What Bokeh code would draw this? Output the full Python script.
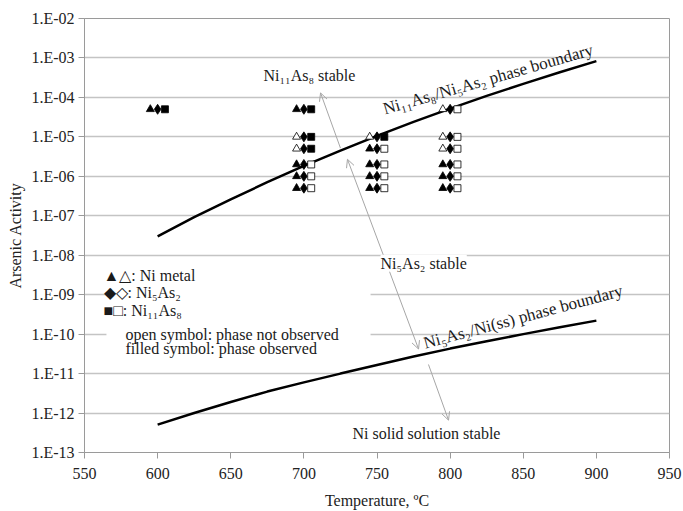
from bokeh.plotting import figure
from bokeh.models import (ColumnDataSource, Arrow, OpenHead, Label, BoxAnnotation,
                          FixedTicker, CustomJSTickFormatter)
from bokeh.transform import dodge, factor_cmap
from bokeh.embed import file_html
from bokeh.resources import INLINE

# ---------------- data ----------------
temperature = [600,
               700, 700, 700, 700, 700, 700,
               750, 750, 750, 750, 750,
               800, 800, 800, 800, 800, 800]
activity = [5e-5,
            5e-5, 1e-5, 5e-6, 2e-6, 1e-6, 5e-7,
            1e-5, 5e-6, 2e-6, 1e-6, 5e-7,
            5e-5, 1e-5, 5e-6, 2e-6, 1e-6, 5e-7]
ni_metal = ["filled",
            "filled", "open", "open", "filled", "filled", "filled",
            "open", "filled", "filled", "filled", "filled",
            "open", "open", "open", "filled", "filled", "filled"]
ni5as2 = ["filled"] * 18
ni11as8 = ["filled",
           "filled", "filled", "filled", "open", "open", "open",
           "filled", "open", "open", "open", "open",
           "open", "open", "open", "open", "open", "open"]

boundary_T = [600, 625, 650, 675, 700, 725, 750, 775, 800, 825, 850, 875, 900]
boundary_ni11as8_ni5as2 = [3.0e-8, 9.2e-8, 2.6e-7, 7.1e-7, 1.84e-6, 4.5e-6, 1.06e-5,
                           2.39e-5, 5.2e-5, 1.09e-4, 2.21e-4, 4.35e-4, 8.3e-4]
boundary_ni5as2_niss = [5.1e-13, 1.0e-12, 1.9e-12, 3.5e-12, 6.0e-12, 1.0e-11, 1.65e-11,
                        2.7e-11, 4.3e-11, 6.6e-11, 1.0e-10, 1.5e-10, 2.2e-10]

x_ticks = [550, 600, 650, 700, 750, 800, 850, 900, 950]
y_ticks = [1e-13, 1e-12, 1e-11, 1e-10, 1e-9, 1e-8, 1e-7, 1e-6, 1e-5, 1e-4, 1e-3, 1e-2]
y_tick_labels = ["1.E-13", "1.E-12", "1.E-11", "1.E-10", "1.E-09", "1.E-08",
                 "1.E-07", "1.E-06", "1.E-05", "1.E-04", "1.E-03", "1.E-02"]

FONT = "Liberation Serif"
GRAY = "#a6a6a6"

p = figure(width=683, height=511, x_range=(550, 950), y_range=(1e-13, 1e-2),
           y_axis_type="log", output_backend="svg", toolbar_location=None,
           min_border_left=84, min_border_right=14, min_border_top=18, min_border_bottom=59)
p.background_fill_color = "white"
p.border_fill_color = "white"
p.outline_line_color = "#9a9a9a"

# axes
p.xaxis.ticker = FixedTicker(ticks=x_ticks)
p.yaxis.ticker = FixedTicker(ticks=y_ticks)
p.yaxis.formatter = CustomJSTickFormatter(args=dict(yvals=y_ticks, ylabels=y_tick_labels), code="""
    const i = yvals.findIndex(t => Math.abs(Math.log10(t) - Math.log10(tick)) < 1e-6);
    return i >= 0 ? ylabels[i] : "";
""")
for ax in (p.xaxis, p.yaxis):
    ax.axis_line_color = "#9a9a9a"
    ax.major_tick_line_color = "#9a9a9a"
    ax.major_tick_out = 6
    ax.major_tick_in = 0
    ax.minor_tick_line_color = None
    ax.major_label_text_font = FONT
    ax.major_label_text_font_size = "16px"
    ax.major_label_text_color = "#222222"
    ax.axis_label_text_font = FONT
    ax.axis_label_text_font_size = "16px"
    ax.axis_label_text_font_style = "normal"
    ax.axis_label_text_color = "#222222"
p.xaxis.axis_label = "Temperature, ºC"
p.yaxis.axis_label = "Arsenic Activity"
p.xaxis.major_label_standoff = 9
p.xaxis.axis_label_standoff = 10
p.yaxis.major_label_standoff = 4
p.yaxis.axis_label_standoff = 4

p.xgrid.grid_line_color = None
p.ygrid.grid_line_color = "#c4c4c4"
p.ygrid.grid_line_width = 1.5

# white box behind the legend text
p.add_layout(BoxAnnotation(left=565, right=745.6, top=10 ** -8.25, bottom=10 ** -10.55,
                           fill_color="white", fill_alpha=1.0, line_color=None, level="underlay"))

# phase boundaries
p.line(boundary_T, boundary_ni11as8_ni5as2, line_color="black", line_width=2.5)
p.line(boundary_T, boundary_ni5as2_niss, line_color="black", line_width=2.5)

src = ColumnDataSource(dict(temperature=temperature, activity=activity,
                            ni_metal=ni_metal, ni5as2=ni5as2, ni11as8=ni11as8))
states = ["filled", "open"]
fills = ["black", "white"]
p.scatter(x=dodge("temperature", -5), y="activity", source=src, marker="triangle", size=8,
          fill_color=factor_cmap("ni_metal", fills, states), line_color="black", line_width=0.8)
p.scatter(x="temperature", y="activity", source=src, marker="diamond", size=10,
          fill_color=factor_cmap("ni5as2", fills, states), line_color="black", line_width=0.8)
p.scatter(x=dodge("temperature", 5), y="activity", source=src, marker="square", size=7,
          fill_color=factor_cmap("ni11as8", fills, states), line_color="black", line_width=0.8)

# arrows
def head():
    return OpenHead(size=8, line_color=GRAY, line_width=1)

p.add_layout(Arrow(end=head(), x_start=725.0, y_start=5.2e-6, x_end=711.4, y_end=1.3e-4,
                   line_color=GRAY, line_width=1))
p.add_layout(Arrow(start=head(), end=head(), x_start=729.8, y_start=2.7e-6, x_end=778.4, y_end=4.2e-11,
                   line_color=GRAY, line_width=1))
p.add_layout(Arrow(end=head(), x_start=785.2, y_start=1.7e-11, x_end=798.9, y_end=6.6e-13,
                   line_color=GRAY, line_width=1))

def label(x, y, text, angle=0, bg=None, baseline="middle", size="16px"):
    lab = Label(x=x, y=y, text=text, text_font=FONT, text_font_size=size,
                text_color="#1a1a1a", text_baseline=baseline, text_align="left",
                angle=angle, angle_units="deg")
    if bg:
        lab.background_fill_color = bg
        lab.background_fill_alpha = 1.0
    p.add_layout(lab)

label(672.4, 3.5e-4, "Ni₁₁As₈ stable")
label(754.4, 5.0e-5, "Ni₁₁As₈/Ni₅As₂ phase boundary", angle=16, baseline="alphabetic", size="17px")
label(752.4, 6.3e-9, "Ni₅As₂ stable", bg="white")
label(782.0, 5.8e-11, "Ni₅As₂/Ni(ss) phase boundary", angle=15, baseline="alphabetic", size="17px")
label(733.2, 3.05e-13, "Ni solid solution stable")

label(563.0, 10 ** -8.51, "▲△: Ni metal")
label(563.0, 10 ** -8.94, "◆◇: Ni₅As₂")
label(563.0, 10 ** -9.39, "■□: Ni₁₁As₈")
label(578.0, 10 ** -10.0, "open symbol: phase not observed")
label(578.0, 10 ** -10.36, "filled symbol: phase observed")

open("out.html", "w").write(file_html(p, INLINE))
